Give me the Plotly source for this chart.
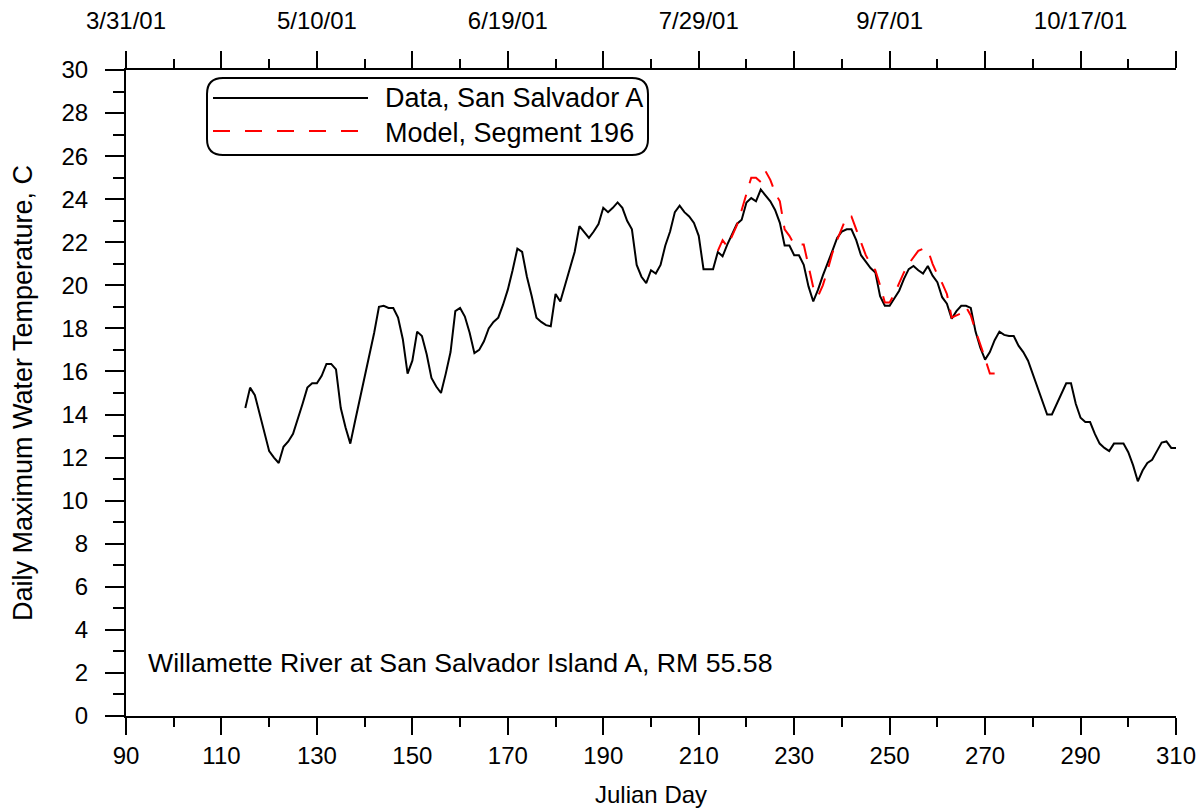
import plotly.graph_objects as go

# ---- data ----
data_days = list(range(115, 311))
data_temp = [
    14.3, 15.25, 14.9, 14.0, 13.1, 12.3, 12.0, 11.75, 12.5, 12.75,   # 115-124
    13.1, 13.75, 14.5, 15.25, 15.45, 15.45, 15.8, 16.35, 16.35, 16.1,  # 125-134
    14.3, 13.4, 12.65, 13.7, 14.7, 15.8, 16.8, 17.8, 19.0, 19.05,     # 135-144
    18.95, 18.95, 18.5, 17.5, 15.9, 16.5, 17.85, 17.65, 16.8, 15.7,   # 145-154
    15.3, 15.0, 15.9, 16.9, 18.8, 18.95, 18.55, 17.8, 16.85, 17.0,    # 155-164
    17.4, 18.0, 18.3, 18.5, 19.1, 19.8, 20.7, 21.7, 21.55, 20.4,      # 165-174
    19.5, 18.5, 18.3, 18.15, 18.1, 19.6, 19.25, 20.0, 20.7, 21.55,    # 175-184
    22.75, 22.5, 22.2, 22.5, 22.85, 23.6, 23.4, 23.6, 23.85, 23.6,    # 185-194
    23.0, 22.6, 20.95, 20.4, 20.1, 20.7, 20.55, 20.95, 21.85, 22.5,   # 195-204
    23.4, 23.7, 23.4, 23.2, 22.9, 22.3, 20.75, 20.75, 20.75, 21.55,   # 205-214
    21.35, 21.9, 22.4, 22.85, 23.05, 23.85, 24.05, 23.9, 24.45, 24.2, # 215-224
    23.9, 23.5, 22.9, 21.85, 21.85, 21.4, 21.4, 20.95, 19.95, 19.25,  # 225-234
    19.8, 20.45, 21.0, 21.6, 22.2, 22.5, 22.6, 22.6, 22.1, 21.4,      # 235-244
    21.1, 20.8, 20.6, 19.5, 19.05, 19.05, 19.4, 19.75, 20.3, 20.75,   # 245-254
    20.9, 20.7, 20.55, 20.9, 20.45, 20.15, 19.45, 19.15, 18.45, 18.8, # 255-264
    19.05, 19.05, 18.95, 17.85, 17.1, 16.55, 16.9, 17.45, 17.85, 17.7,# 265-274
    17.65, 17.65, 17.2, 16.9, 16.5, 15.9, 15.2, 14.6, 14.0, 14.0,     # 275-284
    14.5, 15.0, 15.45, 15.45, 14.5, 13.85, 13.65, 13.65, 13.1, 12.65, # 285-294
    12.45, 12.3, 12.65, 12.65, 12.65, 12.25, 11.65, 10.9, 11.4, 11.75,# 295-304
    11.9, 12.3, 12.7, 12.75, 12.45, 12.45                              # 305-310
]
data_temp = data_temp[:len(data_days)]

model_days = list(range(214, 273))
model_temp = [
    21.6, 22.1, 21.8, 22.3, 22.8, 23.5, 24.3, 25.0, 25.0, 24.8,       # 214-223
    25.3, 24.9, 24.3, 23.9, 22.6, 22.3, 21.9, 21.9, 21.9, 20.9,       # 224-233
    19.9, 19.5, 20.0, 20.7, 21.5, 22.1, 22.7, 23.2, 23.2, 22.6,       # 234-243
    22.0, 21.4, 21.0, 20.7, 20.0, 19.2, 19.2, 19.6, 20.1, 20.6,       # 244-253
    21.0, 21.3, 21.6, 21.7, 21.65, 21.0, 20.5, 20.1, 19.6, 18.5,      # 254-263
    18.6, 18.7, 19.0, 18.6, 17.9, 17.3, 16.6, 15.9, 15.9              # 264-272
]

top_tick_vals = [90, 110, 130, 150, 170, 190, 210, 230, 250, 270, 290, 310]
top_tick_text = ["3/31/01", "", "5/10/01", "", "6/19/01", "", "7/29/01", "", "9/7/01", "", "10/17/01", ""]

FONT = "Liberation Sans, Arial, sans-serif"

fig = go.Figure()
fig.add_trace(go.Scatter(x=data_days, y=data_temp, mode="lines",
                         line=dict(color="black", width=2), showlegend=False,
                         name="Data, San Salvador A"))
fig.add_trace(go.Scatter(x=model_days, y=model_temp, mode="lines",
                         line=dict(color="#FF0000", width=2, dash="17px,12px"),
                         showlegend=False, name="Model, Segment 196"))
# dummy trace to carry the top axis
fig.add_trace(go.Scatter(x=[90, 310], y=[None, None], xaxis="x2", mode="lines",
                         showlegend=False, hoverinfo="skip"))

W, H = 1204, 810
L, T = 126, 70
pw, ph = 1050, 646
R, B = W - L - pw, H - T - ph

def px(x):
    return (x - L) / pw

def py(y):
    return (T + ph - y) / ph

# rounded legend box
x0, x1, y0, y1 = 207, 648, 78, 155
r = 16
rx, ry = r / pw, r / ph
X0, X1, Y0, Y1 = px(x0), px(x1), py(y1), py(y0)
path = (f"M {X0+rx},{Y0} L {X1-rx},{Y0} Q {X1},{Y0} {X1},{Y0+ry} "
        f"L {X1},{Y1-ry} Q {X1},{Y1} {X1-rx},{Y1} L {X0+rx},{Y1} "
        f"Q {X0},{Y1} {X0},{Y1-ry} L {X0},{Y0+ry} Q {X0},{Y0} {X0+rx},{Y0} Z")
shapes = [
    dict(type="path", xref="paper", yref="paper", path=path,
         line=dict(color="black", width=2), fillcolor="white", layer="above"),
    dict(type="line", xref="paper", yref="paper", x0=px(213), x1=px(368), y0=py(98), y1=py(98),
         line=dict(color="black", width=2), layer="above"),
    dict(type="line", xref="paper", yref="paper", x0=px(213), x1=px(368), y0=py(131), y1=py(131),
         line=dict(color="#FF0000", width=2, dash="17px,15px"), layer="above"),
]
annotations = [
    dict(text="Data, San Salvador A", xref="paper", yref="paper", x=px(383), y=py(98),
         xanchor="left", yanchor="middle", showarrow=False, font=dict(size=27, color="black", family=FONT)),
    dict(text="Model, Segment 196", xref="paper", yref="paper", x=px(383), y=py(133),
         xanchor="left", yanchor="middle", showarrow=False, font=dict(size=27, color="black", family=FONT)),
    dict(text="Willamette River at San Salvador Island A, RM 55.58", xref="paper", yref="paper",
         x=px(146), y=py(663), xanchor="left", yanchor="middle", showarrow=False,
         font=dict(size=26.7, color="black", family=FONT)),
    dict(text="Daily Maximum Water Temperature, C", xref="paper", yref="paper",
         x=px(23), y=py(393), xanchor="center", yanchor="middle", textangle=-90, showarrow=False,
         font=dict(size=27, color="black", family=FONT)),
    dict(text="Julian Day", xref="paper", yref="paper",
         x=px(651), y=py(794), xanchor="center", yanchor="middle", showarrow=False,
         font=dict(size=24, color="black", family=FONT)),
]

fig.update_layout(
    width=W, height=H,
    margin=dict(l=L, r=R, t=T, b=B, autoexpand=False),
    paper_bgcolor="white", plot_bgcolor="white",
    font=dict(family=FONT, size=22, color="black"),
    showlegend=False,
    shapes=shapes, annotations=annotations,
    xaxis=dict(range=[90, 310], tickvals=list(range(90, 311, 20)), ticks="outside",
               ticklen=17, tickwidth=2, tickcolor="black", showline=True, linecolor="black",
               linewidth=2, showgrid=False, zeroline=False, ticklabelstandoff=0,
               automargin=False,
               minor=dict(tickvals=list(range(100, 311, 20)), ticks="outside", ticklen=9,
                          tickwidth=2, tickcolor="black"),
               tickfont=dict(size=24)),
    xaxis2=dict(range=[90, 310], overlaying="x", side="top", anchor="y",
                tickvals=top_tick_vals, ticktext=top_tick_text, ticks="outside",
                ticklen=17, tickwidth=2, tickcolor="black", showline=True, linecolor="black",
                linewidth=2, showgrid=False, zeroline=False, ticklabelstandoff=12,
                automargin=False,
                minor=dict(tickvals=list(range(100, 311, 20)), ticks="outside", ticklen=9,
                           tickwidth=2, tickcolor="black"),
                tickfont=dict(size=24)),
    yaxis=dict(range=[0, 30], tickvals=list(range(0, 31, 2)), ticks="outside", ticklen=19,
               tickwidth=2, tickcolor="black", showline=True, linecolor="black", linewidth=2,
               showgrid=False, zeroline=False, ticklabelstandoff=12,
               automargin=False,
               minor=dict(tickvals=list(range(1, 30, 2)), ticks="outside", ticklen=11,
                          tickwidth=2, tickcolor="black"),
               tickfont=dict(size=24)),
)

fig.write_html("out.html", config={"displayModeBar": False},
               post_script="document.body.style.margin='0';document.body.style.overflow='hidden';")
